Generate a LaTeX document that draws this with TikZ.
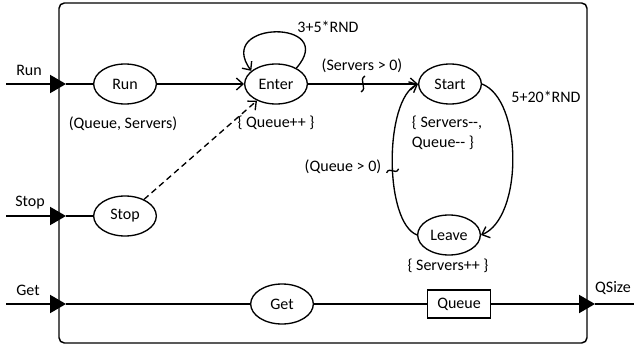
\documentclass[tikz,border=0pt]{standalone}
\usepackage{fontspec}
\setmainfont{Carlito}
\usetikzlibrary{shapes.geometric,arrows.meta,positioning}

\begin{document}
\begin{tikzpicture}[x=0.75pt,y=-0.75pt, font=\fontsize{12}{15}\selectfont,
	event/.style={ellipse, draw, line width=1pt, minimum width=47pt, minimum height=30pt, inner sep=0pt},
	store/.style={rectangle, draw, line width=1pt, minimum width=47pt, minimum height=21pt, inner sep=0pt},
	arc/.style={line width=1pt, -{Straight Barb[length=5pt,width=9pt]}},
	port/.style={line width=1.5pt},
	porttip/.style={port, -{Triangle[length=12pt,width=13.5pt]}},
	squig/.style={line width=1pt},
	frame/.style={draw, line width=1.1pt, rounded corners=4pt}]
\useasboundingbox (0,0) rectangle (634,349);
\draw[frame] (59,3) rectangle (587,343);

% events
\node[event] (run) at (125,84) {Run};
\node[event] (enter) at (276,84) {Enter};
\node[event] (start) at (450,84) {Start};
\node[event] (stop) at (125,216) {Stop};
\node[event] (leave) at (449,235) {Leave};
\node[event] (get) at (282,304) {Get};
\node[store] (queue) at (459,304) {Queue};

% notes
\node (runnote) at (123,124) {(Queue, Servers)};
\node (enternote) at (276,123) {\{ Queue++ \}};
\node[align=left] (startnote) at (447,133) {\{ Servers-{}-,\\Queue-{}- \}};
\node (leavenote) at (448,266) {\{ Servers++ \}};
\node (delay1) at (328,27) {3+5*RND};
\node (delay2) at (546,97) {5+20*RND};
\node (cond1) at (362,66) {(Servers > 0)};
\node (cond2) at (343,167) {(Queue > 0)};

% ports
\node (runlbl) at (29,70) {Run};
\node (stoplbl) at (30,203) {Stop};
\node (getlbl) at (28,290) {Get};
\node (qsizelbl) at (613,288) {QSize};
\coordinate (runin) at (6,84);
\coordinate (runport) at (66,84);
\coordinate (stopin) at (6,216);
\coordinate (stopport) at (66,216);
\coordinate (getin) at (6,304);
\coordinate (getport) at (66,304);
\coordinate (qport) at (595,304);
\coordinate (qout) at (634,304);

\draw[porttip] (runin) -- (runport);
\draw[port] (runport) -- (run);
\draw[porttip] (stopin) -- (stopport);
\draw[port] (stopport) -- (stop);
\draw[porttip] (getin) -- (getport);
\draw[port] (getport) -- (get);
\draw[port] (get) -- (queue);
\draw[porttip] (queue) -- (qport);
\draw[port] (qport) -- (qout);

% arcs
\draw[arc] (run) -- (enter);
\draw[arc, dash pattern=on 4.5pt off 3pt] (stop) -- (enter);
\draw[arc] (enter.38) .. controls +(43,-49) and +(-37,-51) .. (enter.152);
\draw[arc] (enter) -- coordinate[pos=.5] (sq1) (start);
\draw[arc] (start.east) .. controls (523,100) and (523,218) .. (leave.east);
\draw[arc] (leave.west) .. controls (384,222) and (384,100) .. coordinate[pos=.45] (sq2) (start.west);

% conditions
\draw[squig] ([shift={(2,-8)}]sq1) .. controls +(-7,4) and +(7,-4) .. ([shift={(-2,8)}]sq1);
\draw[squig] ([shift={(-6,2)}]sq2) .. controls +(3,-7) and +(-3,7) .. ([shift={(6,-2)}]sq2);
\end{tikzpicture}
\end{document}
